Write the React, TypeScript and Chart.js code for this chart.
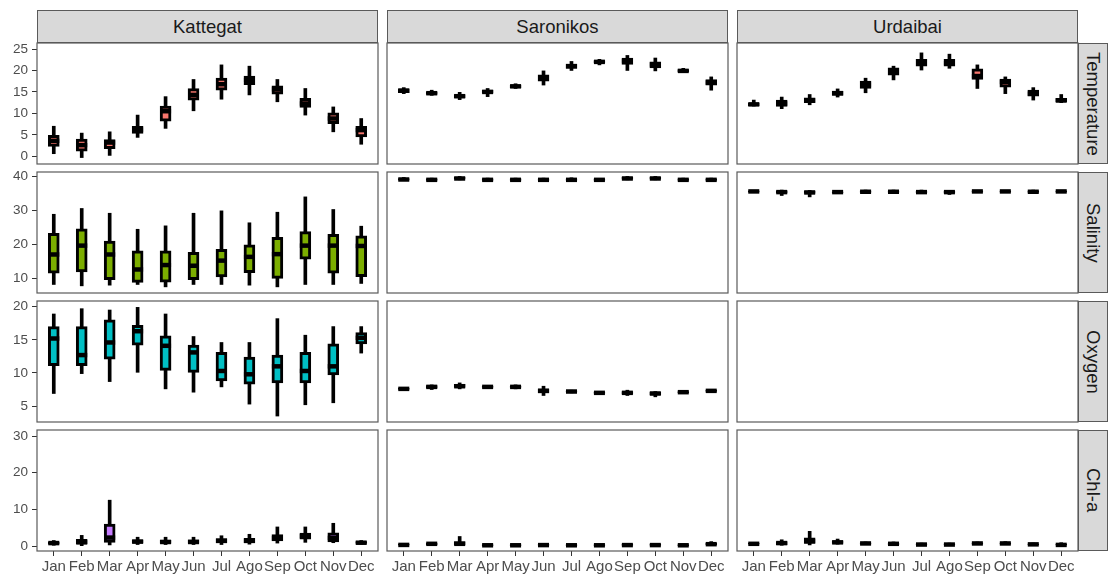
import React, { useEffect, useRef } from "react";
import { Chart, registerables } from "chart.js";

Chart.register(...registerables);

const months = ["Jan", "Feb", "Mar", "Apr", "May", "Jun", "Jul", "Ago", "Sep", "Oct", "Nov", "Dec"];
const sites = ["Kattegat", "Saronikos", "Urdaibai"];
const variables = ["Temperature", "Salinity", "Oxygen", "Chl-a"];

const temperatureTicks = [0, 5, 10, 15, 20, 25];
const salinityTicks = [10, 20, 30, 40];
const oxygenTicks = [5, 10, 15, 20];
const chlaTicks = [0, 10, 20, 30];

const temperatureRange = [-1.8, 26.4];
const salinityRange = [5.7, 41.2];
const oxygenRange = [2.6, 20.86];
const chlaRange = [-1.36, 31.64];

const variableColors = ["#F8766D", "#7CAE00", "#00BFC4", "#C77CFF"];

// each entry: [min, q1, median, q3, max]
const kattegatTemperature = [
  [0.6, 2.3, 3.6, 4.9, 7.0], [-0.3, 1.2, 2.6, 4.0, 5.4], [0.2, 1.8, 3.2, 3.9, 5.7],
  [4.4, 5.3, 6.2, 7.0, 9.6], [6.5, 8.2, 10.5, 11.7, 13.9], [10.6, 13.1, 14.3, 15.8, 17.9],
  [13.3, 15.4, 16.8, 18.2, 21.3], [14.3, 16.7, 17.8, 18.7, 21.0], [12.7, 14.5, 15.6, 16.4, 17.9],
  [9.6, 11.4, 12.3, 13.5, 15.8], [5.7, 7.6, 8.8, 10.1, 11.5], [2.8, 4.5, 6.1, 7.0, 8.8],
];
const saronikosTemperature = [
  [14.6, 14.8, 15.3, 15.7, 16.0], [14.2, 14.4, 14.7, 15.0, 15.4], [13.2, 13.6, 14.0, 14.4, 14.9],
  [13.9, 14.7, 15.0, 15.4, 15.8], [15.8, 16.0, 16.3, 16.6, 16.9], [16.6, 17.5, 18.3, 19.0, 19.9],
  [20.0, 20.5, 21.0, 21.5, 22.1], [21.3, 21.8, 22.0, 22.3, 22.6], [20.0, 21.4, 22.2, 22.9, 23.5],
  [19.9, 20.6, 21.4, 22.0, 22.9], [19.5, 19.7, 19.9, 20.2, 20.5], [15.4, 16.6, 17.2, 17.9, 18.5],
];
const urdaibaiTemperature = [
  [11.7, 11.8, 12.1, 12.4, 13.1], [11.1, 11.6, 12.3, 13.1, 13.8], [12.0, 12.5, 13.0, 13.6, 14.4],
  [13.8, 14.2, 14.7, 15.2, 15.7], [14.8, 15.8, 16.7, 17.5, 18.2], [17.8, 18.9, 19.7, 20.6, 21.0],
  [20.1, 21.0, 21.7, 22.6, 24.1], [20.5, 21.0, 21.7, 22.6, 23.8], [15.8, 17.9, 18.7, 20.4, 21.3],
  [14.6, 16.1, 17.3, 18.0, 18.5], [13.1, 14.0, 14.6, 15.4, 16.0], [12.5, 12.7, 13.0, 13.5, 14.4],
];

const kattegatSalinity = [
  [8.2, 11.5, 17.0, 23.2, 28.8], [7.8, 11.9, 19.6, 24.5, 30.5], [8.0, 9.6, 17.0, 20.9, 29.1],
  [8.2, 8.8, 12.6, 18.1, 24.4], [7.5, 8.9, 13.9, 18.1, 25.4], [8.2, 9.6, 13.7, 17.6, 29.1],
  [8.2, 10.4, 15.2, 18.5, 29.8], [8.0, 11.7, 16.3, 19.8, 26.3], [7.5, 10.0, 17.1, 22.0, 29.4],
  [8.2, 15.6, 19.6, 23.7, 33.9], [8.2, 11.5, 19.6, 22.9, 30.2], [8.5, 10.5, 19.5, 22.5, 25.3],
];
const saronikosSalinity = [
  [38.7, 38.8, 39.0, 39.3, 39.6], [38.5, 38.7, 38.9, 39.2, 39.4], [38.9, 39.1, 39.3, 39.6, 39.9],
  [38.5, 38.7, 38.9, 39.2, 39.4], [38.5, 38.7, 38.9, 39.2, 39.4], [38.5, 38.7, 38.9, 39.2, 39.4],
  [38.6, 38.7, 38.9, 39.2, 39.5], [38.5, 38.7, 38.9, 39.1, 39.3], [38.9, 39.1, 39.3, 39.6, 39.9],
  [38.9, 39.1, 39.3, 39.6, 39.9], [38.5, 38.7, 38.9, 39.2, 39.4], [38.5, 38.7, 38.9, 39.2, 39.4],
];
const urdaibaiSalinity = [
  [35.2, 35.3, 35.5, 35.7, 35.8], [34.3, 35.0, 35.3, 35.7, 35.9], [33.9, 34.9, 35.2, 35.6, 35.8],
  [35.0, 35.1, 35.3, 35.4, 35.5], [35.1, 35.2, 35.4, 35.7, 35.9], [35.1, 35.2, 35.4, 35.7, 35.9],
  [35.0, 35.1, 35.3, 35.6, 35.9], [34.6, 35.0, 35.3, 35.6, 35.8], [35.2, 35.3, 35.5, 35.7, 35.8],
  [35.2, 35.3, 35.5, 35.7, 35.8], [35.1, 35.2, 35.4, 35.7, 35.9], [35.2, 35.3, 35.5, 35.7, 35.8],
];

const kattegatOxygen = [
  [6.9, 11.1, 15.2, 17.0, 18.9], [9.9, 11.1, 12.7, 17.0, 19.7], [8.7, 12.1, 14.6, 18.0, 19.5],
  [10.1, 14.2, 16.3, 17.2, 19.9], [7.6, 10.4, 14.1, 15.6, 18.9], [7.1, 10.1, 13.1, 14.2, 15.5],
  [7.9, 8.8, 10.3, 13.1, 14.6], [5.3, 8.3, 9.8, 12.4, 14.6], [3.5, 8.5, 11.0, 12.7, 18.2],
  [5.2, 8.5, 10.3, 13.1, 15.7], [5.5, 9.7, 11.0, 14.4, 17.0], [13.0, 14.4, 15.3, 16.1, 17.0],
];
const saronikosOxygen = [
  [7.4, 7.5, 7.6, 7.7, 7.8], [7.5, 7.7, 7.9, 8.1, 8.2], [7.6, 7.8, 8.0, 8.3, 8.5],
  [7.7, 7.8, 7.9, 8.0, 8.1], [7.6, 7.8, 7.9, 8.0, 8.2], [6.6, 7.0, 7.3, 7.6, 8.0],
  [7.0, 7.1, 7.2, 7.3, 7.4], [6.8, 6.9, 7.0, 7.1, 7.2], [6.6, 6.8, 7.0, 7.2, 7.4],
  [6.4, 6.7, 6.9, 7.1, 7.2], [6.9, 7.0, 7.1, 7.2, 7.3], [7.1, 7.2, 7.3, 7.4, 7.5],
];
const urdaibaiOxygen: number[][] = [];

const kattegatChla = [
  [0.2, 0.5, 0.8, 1.1, 1.5], [0.1, 0.6, 1.0, 1.8, 2.9], [0.3, 1.0, 2.3, 6.0, 12.5],
  [0.4, 0.8, 1.2, 1.7, 2.4], [0.4, 0.7, 1.1, 1.6, 2.4], [0.4, 0.7, 1.1, 1.7, 2.4],
  [0.4, 0.9, 1.4, 2.0, 2.8], [0.5, 0.9, 1.4, 2.1, 3.2], [0.8, 1.4, 2.1, 3.1, 5.2],
  [1.0, 1.9, 2.7, 3.5, 5.2], [0.9, 1.1, 2.2, 3.6, 6.2], [0.5, 0.7, 0.9, 1.2, 1.5],
];
const saronikosChla = [
  [0.1, 0.2, 0.3, 0.5, 0.6], [0.3, 0.4, 0.6, 0.8, 0.9], [0.1, 0.3, 0.6, 1.2, 2.6],
  [0.05, 0.1, 0.2, 0.4, 0.5], [0.05, 0.1, 0.2, 0.4, 0.5], [0.05, 0.15, 0.25, 0.45, 0.6],
  [0.05, 0.1, 0.2, 0.4, 0.5], [0.05, 0.1, 0.2, 0.4, 0.5], [0.05, 0.15, 0.25, 0.45, 0.6],
  [0.05, 0.15, 0.25, 0.45, 0.6], [0.05, 0.1, 0.2, 0.4, 0.5], [0.2, 0.3, 0.5, 0.8, 1.2],
];
const urdaibaiChla = [
  [0.3, 0.5, 0.6, 0.8, 0.9], [0.2, 0.4, 0.8, 1.2, 1.7], [0.3, 0.7, 1.3, 2.2, 4.0],
  [0.5, 0.7, 1.0, 1.4, 1.9], [0.4, 0.5, 0.7, 0.9, 1.1], [0.3, 0.4, 0.6, 0.8, 1.1],
  [0.2, 0.3, 0.4, 0.6, 0.8], [0.2, 0.3, 0.4, 0.6, 0.8], [0.4, 0.5, 0.7, 0.9, 1.1],
  [0.4, 0.5, 0.7, 0.9, 1.2], [0.2, 0.3, 0.45, 0.6, 0.8], [0.1, 0.2, 0.3, 0.5, 0.9],
];

const panelStats = [
  [kattegatTemperature, saronikosTemperature, urdaibaiTemperature],
  [kattegatSalinity, saronikosSalinity, urdaibaiSalinity],
  [kattegatOxygen, saronikosOxygen, urdaibaiOxygen],
  [kattegatChla, saronikosChla, urdaibaiChla],
];
const rowTicks = [temperatureTicks, salinityTicks, oxygenTicks, chlaTicks];
const rowRanges = [temperatureRange, salinityRange, oxygenRange, chlaRange];

const FONT = "'Liberation Sans', Arial, Helvetica, sans-serif";
const COL_LEFT = [37, 387, 737];
const COL_W = 341;
const ROW_TOP = [43, 172, 301, 430];
const ROW_H = 121;
const STRIP_TOP = 10;
const STRIP_H = 33;
const RIGHT_STRIP_W = 30;
const BORDER = "#5a5a5a";

const borderPlugin = {
  id: "panelBorder",
  afterDraw(chart: any) {
    const { ctx, chartArea } = chart;
    const { left, top, right, bottom } = chartArea;
    ctx.save();
    ctx.strokeStyle = BORDER;
    ctx.lineWidth = 1.2;
    ctx.strokeRect(left, top, right - left, bottom - top);
    ctx.restore();
  },
};

type PanelProps = {
  stats: number[][];
  color: string;
  range: number[];
  ticks: number[];
  left: number;
  top: number;
  showY: boolean;
  showX: boolean;
};

function Panel({ stats, color, range, ticks, left, top, showY, showX }: PanelProps) {
  const ref = useRef<HTMLCanvasElement>(null);
  const P = 12;
  const YW = showY ? 37 : 0;
  const XH = showX ? 30 : 0;
  const cw = COL_W + YW + 2 * P;
  const ch = ROW_H + XH + 2 * P;

  useEffect(() => {
    if (!ref.current) return;
    const whiskers = stats.map((s, i) => ({ x: i, y: [s[0], s[4]] }));
    const boxes = stats.map((s, i) => ({ x: i, y: [s[1], s[3]] }));
    const medians = stats.map((s, i) => ({ x: i, y: s[2] }));
    const datasets: any[] = stats.length
      ? [
          {
            type: "line",
            data: medians,
            showLine: false,
            pointStyle: "line",
            pointRadius: 5.5,
            pointHoverRadius: 5.5,
            pointBorderWidth: 4.5,
            pointHoverBorderWidth: 4.5,
            pointBorderColor: "#000000",
            pointBackgroundColor: "#000000",
            order: 1,
          },
          {
            type: "bar",
            data: boxes,
            backgroundColor: color,
            borderColor: "#000000",
            borderWidth: 3,
            borderSkipped: false,
            barThickness: 11,
            maxBarThickness: 11,
            grouped: false,
            order: 2,
          },
          {
            type: "bar",
            data: whiskers,
            backgroundColor: "#000000",
            borderWidth: 0,
            barThickness: 3,
            maxBarThickness: 3,
            grouped: false,
            order: 3,
          },
        ]
      : [];

    const gridOpts = {
      display: true,
      drawOnChartArea: false,
      drawTicks: true,
      tickLength: 5,
      color: "#333333",
      lineWidth: 1,
      offset: false,
    };

    const chart = new Chart(ref.current, {
      type: "bar",
      data: { datasets },
      plugins: [borderPlugin],
      options: {
        responsive: false,
        animation: false,
        events: [],
        devicePixelRatio: 1,
        layout: { padding: P },
        plugins: { legend: { display: false }, tooltip: { enabled: false } },
        scales: {
          x: {
            type: "linear",
            min: -0.6,
            max: 11.6,
            offset: false,
            display: showX,
            grid: gridOpts,
            border: { display: false },
            ticks: {
              autoSkip: false,
              maxRotation: 0,
              minRotation: 0,
              padding: 2,
              color: "#4d4d4d",
              font: { family: FONT, size: 15 },
              callback: (v: any) => months[Number(v)] ?? "",
            },
            afterBuildTicks: (s: any) => {
              s.ticks = months.map((_, i) => ({ value: i }));
            },
            afterFit: (s: any) => {
              s.height = XH;
              s.paddingLeft = 0;
              s.paddingRight = 0;
            },
          },
          y: {
            type: "linear",
            position: "left",
            min: range[0],
            max: range[1],
            display: showY,
            grid: gridOpts,
            border: { display: false },
            ticks: {
              padding: 4,
              color: "#4d4d4d",
              font: { family: FONT, size: 13.5 },
            },
            afterBuildTicks: (s: any) => {
              s.ticks = ticks.map((v) => ({ value: v }));
            },
            afterFit: (s: any) => {
              s.width = YW;
              s.paddingTop = 0;
              s.paddingBottom = 0;
            },
          },
        },
      } as any,
    });
    return () => chart.destroy();
  }, []);

  return (
    <canvas
      ref={ref}
      width={cw}
      height={ch}
      style={{ position: "absolute", left: left - YW - P, top: top - P, width: cw, height: ch }}
    />
  );
}

const stripBase: React.CSSProperties = {
  position: "absolute",
  boxSizing: "border-box",
  background: "#d9d9d9",
  border: `1px solid ${BORDER}`,
  display: "flex",
  alignItems: "center",
  justifyContent: "center",
  fontFamily: FONT,
  fontSize: 18.5,
  color: "#1a1a1a",
  whiteSpace: "nowrap",
};

export default function App() {
  return (
    <div
      style={{
        position: "absolute",
        left: 0,
        top: 0,
        width: 1109,
        height: 581,
        overflow: "hidden",
        background: "#ffffff",
      }}
    >
      {sites.map((s, c) => (
        <div key={s} style={{ ...stripBase, left: COL_LEFT[c], top: STRIP_TOP, width: COL_W, height: STRIP_H }}>
          {s}
        </div>
      ))}
      {variables.map((v, r) => (
        <div
          key={v}
          style={{
            ...stripBase,
            left: COL_LEFT[2] + COL_W,
            top: ROW_TOP[r],
            width: RIGHT_STRIP_W,
            height: ROW_H,
          }}
        >
          <span style={{ writingMode: "vertical-rl" }}>{v}</span>
        </div>
      ))}
      {variables.map((v, r) =>
        sites.map((s, c) => (
          <Panel
            key={v + s}
            stats={panelStats[r][c]}
            color={variableColors[r]}
            range={rowRanges[r]}
            ticks={rowTicks[r]}
            left={COL_LEFT[c]}
            top={ROW_TOP[r]}
            showY={c === 0}
            showX={r === 3}
          />
        ))
      )}
    </div>
  );
}
